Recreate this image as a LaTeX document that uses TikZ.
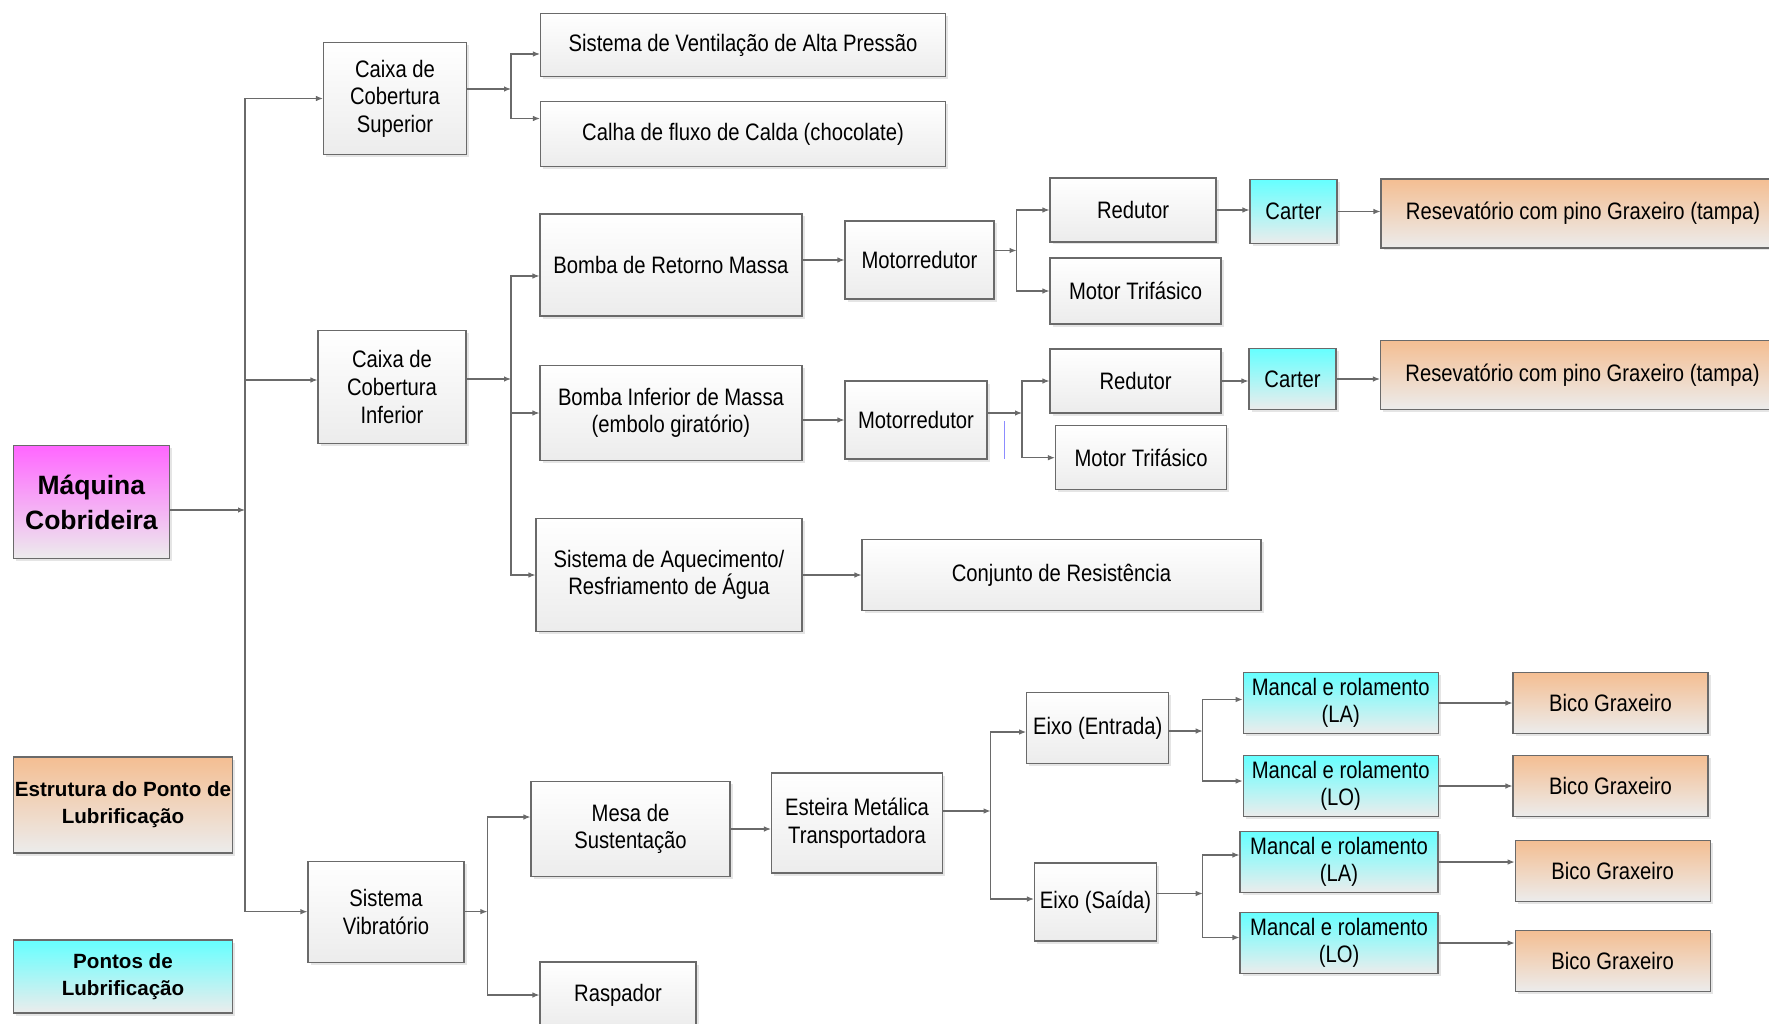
\documentclass[tikz,border=0pt]{standalone}
\usepackage{fontspec}
\setmainfont{Liberation Sans}
\newfontfamily\narrowfont{Liberation Sans}[FakeStretch=0.85]
\usepackage{xcolor}
\usetikzlibrary{shadows,arrows.meta,calc}

\definecolor{boxline}{HTML}{6A6A6A}
\definecolor{boxbottom}{HTML}{ECECEC}
\definecolor{magtop}{HTML}{FF66FF}
\definecolor{peachtop}{HTML}{F4BE92}
\definecolor{cyantop}{HTML}{66FFFF}

\begin{document}
\begin{tikzpicture}[
	%	style def
    x=1pt, y=-1pt,
    wh/.style 2 args={minimum width=#1pt, minimum height=#2pt},
    block/.style={rectangle, draw=boxline, line width=1.1pt, align=center, inner sep=0pt,
        top color=white, bottom color=boxbottom,
        drop shadow={shadow xshift=2.5pt, shadow yshift=-2.5pt, fill=black!20},
        font=\narrowfont\fontsize{23.8}{27.6}\selectfont},
    lube/.style={block, top color=cyantop},
    grease/.style={block, top color=peachtop},
    legend/.style={font=\bfseries\fontsize{20.6}{27}\selectfont},
    conn/.style={draw=boxline, line width=1.1pt, -{Latex[length=7pt,width=5.5pt]}}
    ]
    \useasboundingbox (0,0) rectangle (1769,1024);

    % left column
    \node[block, top color=magtop, font=\bfseries\fontsize{26.5}{35}\selectfont, wh={156}{113}] (maq) at (91.4,502) {Máquina\\Cobrideira};
    \node[grease, legend, wh={219}{96}] (estr) at (123,805) {Estrutura do Ponto de\\Lubrificação};
    \node[lube, legend, wh={219}{73}] (pont) at (123,976.5) {Pontos de\\Lubrificação};

    % first level
    \node[block, wh={143}{112}] (csup) at (395,98.5) {Caixa de\\Cobertura\\Superior};
    \node[block, wh={148}{113}] (cinf) at (392,387) {Caixa de\\Cobertura\\Inferior};
    \node[block, wh={156}{101}] (svib) at (386,911.7) {Sistema\\Vibratório};

    % second level
    \node[block, wh={405}{63}] (vent) at (743,45) {Sistema de Ventilação de Alta Pressão};
    \node[block, wh={405}{65}] (calha) at (743,134) {Calha de fluxo de Calda (chocolate)};
    \node[block, wh={262}{102}] (bret) at (671,265) {Bomba de Retorno Massa};
    \node[block, wh={262}{95}] (binf) at (671,413) {Bomba Inferior de Massa\\(embolo giratório)};
    \node[block, wh={266}{113}] (saq) at (669,575) {Sistema de Aquecimento/\\Resfriamento de Água};
    \node[block, wh={199}{95}] (mesa) at (630.5,829) {Mesa de\\Sustentação};
    \node[block, wh={156}{66}] (rasp) at (618,995) {Raspador};

    % third level
    \node[block, wh={149}{78}] (mr1) at (919.5,260) {Motorredutor};
    \node[block, wh={142}{78}] (mr2) at (916,420) {Motorredutor};
    \node[block, wh={399}{71}] (conj) at (1061.5,575) {Conjunto de Resistência};
    \node[block, wh={171}{100}] (est) at (857,823) {Esteira Metálica\\Transportadora};

    \node[block, wh={166}{64}] (red1) at (1133,210) {Redutor};
    \node[block, wh={171}{66}] (mt1) at (1135.5,291) {Motor Trifásico};
    \node[block, wh={171}{64}] (red2) at (1135.5,381) {Redutor};
    \node[block, wh={171}{64}] (mt2) at (1141,457.7) {Motor Trifásico};
    \node[lube, wh={87}{64}] (car1) at (1293.5,211.5) {Carter};
    \node[lube, wh={87}{61}] (car2) at (1292.5,379) {Carter};
    \node[grease, wh={404}{69}] (res1) at (1583,213.5) {Resevatório com pino Graxeiro (tampa)};
    \node[grease, wh={404}{69}] (res2) at (1582.5,375) {Resevatório com pino Graxeiro (tampa)};

    \node[block, wh={142}{71}] (eixoe) at (1097.7,728) {Eixo (Entrada)};
    \node[block, wh={122}{78}] (eixos) at (1095.5,902) {Eixo (Saída)};
    \node[lube, wh={195}{61}] (mla1) at (1340.7,703) {Mancal e rolamento\\(LA)};
    \node[lube, wh={195}{61}] (mlo1) at (1340.7,786) {Mancal e rolamento\\(LO)};
    \node[lube, wh={198}{61}] (mla2) at (1339,862) {Mancal e rolamento\\(LA)};
    \node[lube, wh={198}{61}] (mlo2) at (1339,943) {Mancal e rolamento\\(LO)};
    \node[grease, wh={195}{61}] (bico1) at (1610.5,703) {Bico Graxeiro};
    \node[grease, wh={195}{61}] (bico2) at (1610.5,786) {Bico Graxeiro};
    \node[grease, wh={195}{61}] (bico3) at (1612.7,871) {Bico Graxeiro};
    \node[grease, wh={195}{61}] (bico4) at (1612.7,961) {Bico Graxeiro};

    % junctions
    \coordinate (jm) at (245,510);
    \coordinate (jcs) at (511,89);
    \coordinate (jci) at (511,379);
    \coordinate (jsv) at (487.4,911.6);
    \coordinate (jr1) at (1016.5,250.5);
    \coordinate (jr2) at (1022,413);
    \coordinate (jes) at (990.6,811);
    \coordinate (jxe) at (1202.7,731);
    \coordinate (jxs) at (1202.7,893.5);

    % connections
    \draw[conn] (maq.east |- jm) -- (jm);
    \foreach \t/\d in {csup/0pt, cinf/7pt, svib/0pt}
        \draw[conn] (jm) |- ([yshift=\d]\t.west);

    \draw[conn] (csup.east |- jcs) -- (jcs);
    \foreach \t/\d in {vent/-9pt, calha/15.5pt}
        \draw[conn] (jcs) |- ([yshift=\d]\t.west);

    \draw[conn] (cinf.east |- jci) -- (jci);
    \foreach \t/\d in {bret/-11pt, binf/0pt, saq/0pt}
        \draw[conn] (jci) |- ([yshift=\d]\t.west);

    \draw[conn] (bret.east |- mr1) -- (mr1.west);
    \draw[conn] (binf.east |- mr2) -- (mr2.west);
    \draw[conn] (saq.east |- conj) -- (conj.west);

    \draw[conn] (mr1.east |- jr1) -- (jr1);
    \foreach \t in {red1, mt1}
        \draw[conn] (jr1) |- (\t.west);
    \draw[conn] (mr2.east |- jr2) -- (jr2);
    \foreach \t in {red2, mt2}
        \draw[conn] (jr2) |- (\t.west);
    \draw[blue!45, line width=0.7pt] (1004,421) -- (1004,459);

    \draw[conn] (red1.east) -- (red1.east -| car1.west);
    \draw[conn] (car1.east) -- (car1.east -| res1.west);
    \draw[conn] (red2.east) -- (red2.east -| car2.west);
    \draw[conn] (car2.east) -- (car2.east -| res2.west);

    \draw[conn] (svib.east |- jsv) -- (jsv);
    \foreach \t/\d in {mesa/12pt, rasp/0pt}
        \draw[conn] (jsv) |- ([yshift=\d]\t.west);
    \draw[conn] (mesa.east) -- (mesa.east -| est.west);

    \draw[conn] (est.east |- jes) -- (jes);
    \foreach \t/\d in {eixoe/-4pt, eixos/3pt}
        \draw[conn] (jes) |- ([yshift=\d]\t.west);

    \draw[conn] (eixoe.east |- jxe) -- (jxe);
    \foreach \t/\d in {mla1/3.5pt, mlo1/5pt}
        \draw[conn] (jxe) |- ([yshift=\d]\t.west);
    \draw[conn] (eixos.east |- jxs) -- (jxs);
    \foreach \t/\d in {mla2/7pt, mlo2/5.5pt}
        \draw[conn] (jxs) |- ([yshift=\d]\t.west);

    \foreach \a/\b in {mla1/bico1, mlo1/bico2, mla2/bico3, mlo2/bico4}
        \draw[conn] (\a.east) -- (\a.east -| \b.west);
\end{tikzpicture}
\end{document}
